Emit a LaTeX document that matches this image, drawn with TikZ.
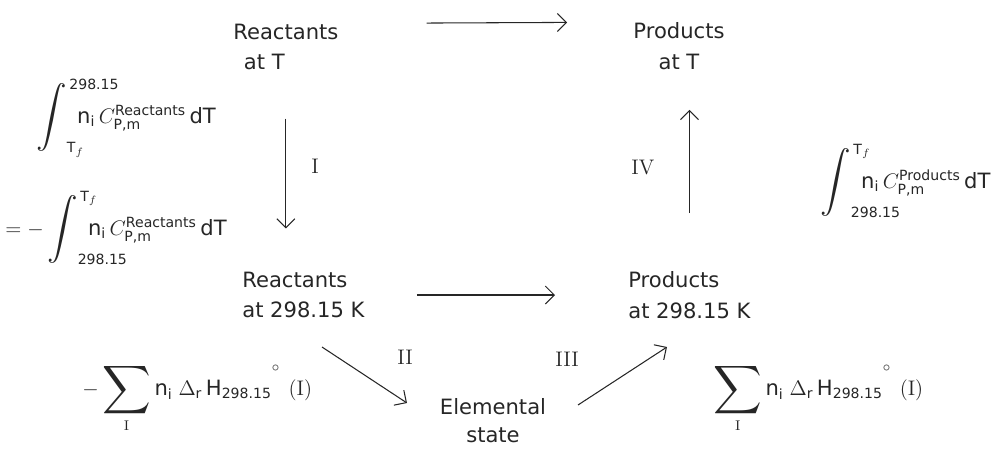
\documentclass[tikz,border=0pt]{standalone}
\usepackage{amsmath}
\usepackage[no-math]{fontspec}
\setmainfont{DejaVu Sans}
\usepackage{tikz}
\usetikzlibrary{arrows.meta}

\newcommand{\cpint}[3]{\mathop{\vcenter{\hbox{\scalebox{1.45}{$\displaystyle\int$}}}}\nolimits_{\rlap{$\scriptstyle#1$}}^{\rlap{$\scriptstyle\,#2$}}\;\text{n}_{\text{i}}\,C_{\text{P,m}}^{\text{#3}}\,\text{dT}}
\newcommand{\hsum}{\mathop{\vcenter{\hbox{\scalebox{1.6}{$\displaystyle\sum$}}}}\limits_{\mathrm{I}}\text{n}_{\text{i}}\;\Delta_{\text{r}}\,\text{H}_{\text{298.15}}\raisebox{2.1ex}{$\scriptstyle\circ$}\;\,(\mathrm{I})}

\begin{document}
\begin{tikzpicture}[x=0.2mm,y=-0.2mm,font=\fontsize{12}{17.5}\selectfont,
    every node/.style={inner sep=0pt,text=black!85},
    arr/.style={-{Straight Barb[length=1.8mm,width=3.6mm]},line width=0.6pt,black!85}]
\useasboundingbox (0,0) rectangle (1000,449);

% states
\node[anchor=west,align=left] (rT) at (233,47) {Reactants\\\hspace{0.5em}at T};
\node[align=center] (pT) at (679,46) {Products\\at T};
\node[anchor=west,align=left] (r298) at (242,295) {Reactants\\at 298.15 K};
\node[anchor=west,align=left] (p298) at (628,295) {Products\\at 298.15 K};
\node[align=center,font=\fontsize{12}{16}\selectfont] (elem) at (493,421) {Elemental\\state};

% steps
\draw[arr,shorten <=17.6mm,shorten >=13.2mm] (rT.north east) -- (pT.north west);
\draw[arr,shorten <=10.4mm,shorten >=14.6mm] (r298) -- (p298);
\draw[arr,shorten <=9.6mm,shorten >=8.6mm] (rT.south) -- (rT.south |- r298.north);
\draw[arr,shorten <=11.6mm,shorten >=8mm] (p298.north) -- (p298.north |- pT.south);
\coordinate (iiA) at (322,347);
\coordinate (iiB) at (407,403);
\coordinate (iiiA) at (578,405);
\coordinate (iiiB) at (667,347);
\draw[arr] (iiA) -- (iiB);
\draw[arr] (iiiA) -- (iiiB);

\node (lI) at (315,166) {$\mathrm{I}$};
\node (lIV) at (643,167) {$\mathrm{IV}$};
\node (lII) at (405,357) {$\mathrm{II}$};
\node (lIII) at (567,359) {$\mathrm{III}$};

% enthalpy terms
\node[anchor=west] (intA) at (36,118) {$\cpint{\text{T}_f}{\text{298.15}}{Reactants}$};
\node[anchor=west] (intB) at (5,228) {$=-\cpint{\text{298.15}}{\text{T}_f}{Reactants}$};
\node[anchor=west] (intC) at (820,181) {$\cpint{\text{298.15}}{\text{T}_f}{Products}$};
\node[anchor=west] (sumL) at (82,398) {$-\hsum$};
\node[anchor=west] (sumR) at (713,398) {$\hsum$};
\end{tikzpicture}
\end{document}
